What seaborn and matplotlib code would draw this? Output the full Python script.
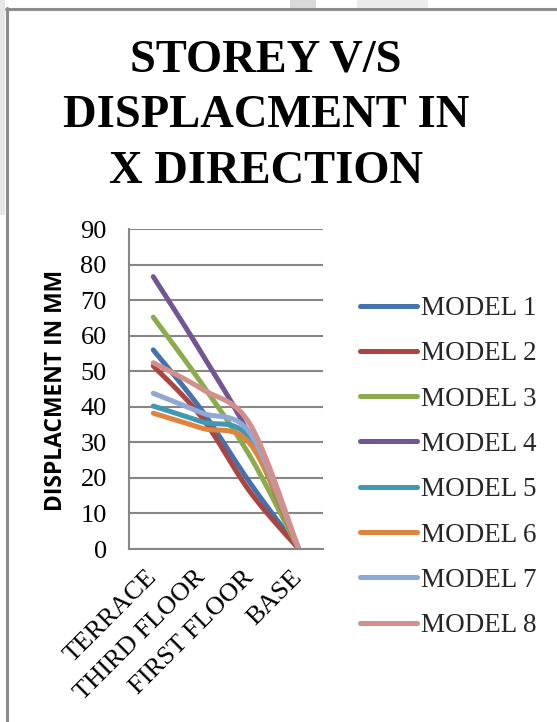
import numpy as np
import pandas as pd
import matplotlib
matplotlib.use("Agg")
import matplotlib.pyplot as plt
from matplotlib.patches import Rectangle
from matplotlib.lines import Line2D
import seaborn as sns

# Storey levels (top to bottom) and lateral displacement in X direction, mm
storeys = ["TERRACE", "THIRD FLOOR", "FIRST FLOOR", "BASE"]
models = ["MODEL 1", "MODEL 2", "MODEL 3", "MODEL 4",
          "MODEL 5", "MODEL 6", "MODEL 7", "MODEL 8"]
model_1 = [56.0, 39.0, 18.5, 0.0]
model_2 = [51.5, 37.0, 16.0, 0.0]
model_3 = [65.2, 46.5, 26.0, 0.0]
model_4 = [76.6, 55.0, 31.5, 0.0]
model_5 = [40.2, 35.8, 31.0, 0.0]
model_6 = [38.2, 34.0, 29.5, 0.0]
model_7 = [43.8, 38.3, 32.5, 0.0]
model_8 = [52.4, 45.0, 35.0, 0.0]
y_ticks = [0, 10, 20, 30, 40, 50, 60, 70, 80, 90]

series = [model_1, model_2, model_3, model_4,
          model_5, model_6, model_7, model_8]
colors = ["#4472AC", "#AB4542", "#8BAC4C", "#715594",
          "#4098B3", "#E0833C", "#8FA9D4", "#D48F8D"]


def smooth_curve(values, steps=40):
    """Bezier smoothing through the points (spreadsheet-style smoothed line)."""
    pts = np.column_stack([np.arange(len(values), dtype=float),
                           np.asarray(values, dtype=float)])
    out = [pts[0]]
    n = len(pts)
    for i in range(n - 1):
        p0 = pts[max(i - 1, 0)]
        p1 = pts[i]
        p2 = pts[i + 1]
        p3 = pts[min(i + 2, n - 1)]
        c1 = p1 + (p2 - p0) / 6.0
        c2 = p2 - (p3 - p1) / 6.0
        t = np.linspace(0, 1, steps)[1:, None]
        seg = ((1 - t) ** 3) * p1 + 3 * ((1 - t) ** 2) * t * c1 \
            + 3 * (1 - t) * t ** 2 * c2 + t ** 3 * p2
        out.extend(seg)
    return np.array(out)


frames = []
for name, vals in zip(models, series):
    c = smooth_curve(vals)
    frames.append(pd.DataFrame({"pos": c[:, 0], "disp": c[:, 1], "model": name}))
curve_df = pd.concat(frames, ignore_index=True)

sns.set_theme(style="white")
plt.rcParams["font.family"] = ["Liberation Serif", "DejaVu Serif"]

W, H = 557, 722
fig = plt.figure(figsize=(W / 100, H / 100), dpi=100)
fig.patch.set_facecolor("white")

# page frame around the chart
fig.add_artist(Rectangle((0, 1 - 215 / H), 5 / W, 215 / H, transform=fig.transFigure,
                         facecolor="#e6e6e6", edgecolor="none"))
fig.add_artist(Line2D([6.5 / W, 6.5 / W], [0, 1 - 8 / H], transform=fig.transFigure,
                      color="#8c8c8c", lw=2.2))
fig.add_artist(Line2D([6 / W, 1], [1 - 9 / H, 1 - 9 / H], transform=fig.transFigure,
                      color="#8c8c8c", lw=2.2))
for x0, x1, col in [(290, 316, "#d9d9d9"), (357, 428, "#ececec")]:
    fig.add_artist(Rectangle((x0 / W, 1 - 8 / H), (x1 - x0) / W, 8 / H,
                             transform=fig.transFigure, facecolor=col, edgecolor="none"))

ax = fig.add_axes([129 / W, 1 - 549 / H, 194 / W, 320 / H])
ax.set_facecolor("white")

sns.lineplot(data=curve_df, x="pos", y="disp", hue="model", hue_order=models,
             palette=colors, sort=False, estimator=None, lw=3.6,
             solid_capstyle="round", legend=False, ax=ax)

ax.set_xlim(-0.5, len(storeys) - 0.5)
ax.set_ylim(0, 90)
ax.set_yticks(y_ticks)
ax.set_yticklabels([str(v) for v in y_ticks], fontsize=19)
ax.set_xticks(range(len(storeys)))
ax.set_xticklabels(storeys, fontsize=19, rotation=45, ha="right", va="center",
                   rotation_mode="anchor")
ax.tick_params(axis="y", length=0, pad=16, colors="black")
ax.tick_params(axis="x", length=0, pad=18, colors="black")
ax.grid(axis="y", color="#868686", lw=1.5)
ax.set_axisbelow(True)
for side in ["top", "right"]:
    ax.spines[side].set_visible(False)
for side in ["left", "bottom"]:
    ax.spines[side].set_color("#868686")
    ax.spines[side].set_linewidth(1.5)
ax.set_xlabel("")
ax.set_ylabel("")

fig.text(56 / W, 1 - 390 / H, "DISPLACMENT IN MM", rotation=90, ha="center",
         va="center", fontsize=16.5, fontweight="bold",
         family=["Open Sans", "DejaVu Sans"], color="black")

fig.text(266 / W, 1 - 40 / H, "STOREY V/S\nDISPLACMENT IN\nX DIRECTION",
         ha="center", va="top", fontsize=33.5, fontweight="bold",
         linespacing=1.42, color="black")

handles = [Line2D([0], [0], color=c, lw=3.6, solid_capstyle="round") for c in colors]
fig.legend(handles, models, loc="upper left",
           bbox_to_anchor=(360 / W, 1 - 296 / H), frameon=False, fontsize=19.5,
           handlelength=2.1, handletextpad=0.15, labelspacing=0.75,
           borderaxespad=0, borderpad=0)

fig.savefig("out.png", dpi=100, facecolor="white")
